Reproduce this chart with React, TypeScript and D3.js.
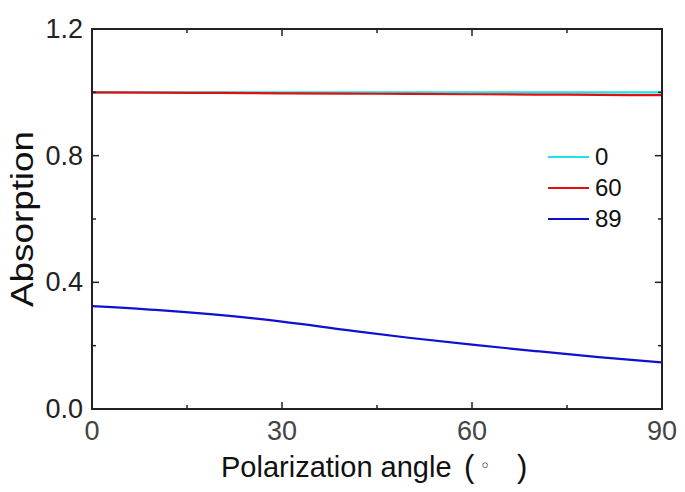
import React from "react";
import * as d3 from "d3";

const angles = [0, 10, 20, 30, 40, 50, 60, 70, 80, 90];
const series0 = [1.0, 1.0, 1.0, 1.0, 1.0, 1.0, 1.0, 1.0, 1.0, 1.0];
const series60 = [1.0, 0.999, 0.998, 0.997, 0.996, 0.995, 0.994, 0.993, 0.992, 0.991];
const series89 = [0.325, 0.313, 0.297, 0.276, 0.25, 0.225, 0.203, 0.183, 0.164, 0.147];
const seriesNames = ["0", "60", "89"];
const seriesColors = ["#22e0e8", "#e01010", "#1010d0"];
const xTicks = [0, 30, 60, 90];
const xMinor = [15, 45, 75];
const yTicks = [0, 0.4, 0.8, 1.2];
const yMinor = [0.2, 0.6, 1.0];

const W = 685, H = 492;
const L = 92, R = 662, T = 29, B = 409;
const font = "Liberation Sans, Arial, sans-serif";

export default function App() {
  const x = d3.scaleLinear().domain([0, 90]).range([L, R]);
  const y = d3.scaleLinear().domain([0, 1.2]).range([B, T]);
  const line = d3.line<[number, number]>().x(d => x(d[0])).y(d => y(d[1])).curve(d3.curveMonotoneX);
  const all = [series0, series60, series89];
  const axisColor = "#222";
  return (
    <svg width={W} height={H} style={{ position: "absolute", left: 0, top: 0, background: "#fff" }}>
      {all.map((s, i) => (
        <path key={i} d={line(angles.map((a, j) => [a, s[j]] as [number, number])) || ""} fill="none" stroke={seriesColors[i]} strokeWidth={2.2} />
      ))}
      <rect x={L} y={T} width={R - L} height={B - T} fill="none" stroke={axisColor} strokeWidth={2} />
      {xTicks.map(t => (
        <g key={"xt" + t}>
          <line x1={x(t)} x2={x(t)} y1={B} y2={B - 7} stroke={axisColor} strokeWidth={1.5} />
          <line x1={x(t)} x2={x(t)} y1={T} y2={T + 7} stroke={axisColor} strokeWidth={1.5} />
          <text x={x(t)} y={440} textAnchor="middle" fontFamily={font} fontSize={27} fill="#444">{t}</text>
        </g>
      ))}
      {xMinor.map(t => (
        <g key={"xm" + t}>
          <line x1={x(t)} x2={x(t)} y1={B} y2={B - 4} stroke={axisColor} strokeWidth={1.5} />
          <line x1={x(t)} x2={x(t)} y1={T} y2={T + 4} stroke={axisColor} strokeWidth={1.5} />
        </g>
      ))}
      {yTicks.map(t => (
        <g key={"yt" + t}>
          <line x1={L} x2={L + 7} y1={y(t)} y2={y(t)} stroke={axisColor} strokeWidth={1.5} />
          <line x1={R} x2={R - 7} y1={y(t)} y2={y(t)} stroke={axisColor} strokeWidth={1.5} />
          <text x={83} y={y(t) + 9} textAnchor="end" fontFamily={font} fontSize={27} fill="#222">{t.toFixed(1)}</text>
        </g>
      ))}
      {yMinor.map(t => (
        <g key={"ym" + t}>
          <line x1={L} x2={L + 4} y1={y(t)} y2={y(t)} stroke={axisColor} strokeWidth={1.5} />
          <line x1={R} x2={R - 4} y1={y(t)} y2={y(t)} stroke={axisColor} strokeWidth={1.5} />
        </g>
      ))}
      {seriesNames.map((n, i) => (
        <g key={"lg" + n}>
          <line x1={548} x2={589} y1={157 + i * 31} y2={157 + i * 31} stroke={seriesColors[i]} strokeWidth={2.2} />
          <text x={595} y={157 + i * 31 + 8} fontFamily={font} fontSize={24} fill="#111">{n}</text>
        </g>
      ))}
      <text y={477} fontFamily={font} fontSize={29} fill="#111">
        <tspan x={221}>Polarization angle</tspan>
        <tspan x={464} fontSize={31}>(</tspan>
        <tspan x={480} dy={-5} fontSize={18} fontFamily="DejaVu Sans">◦</tspan>
        <tspan x={517} dy={5} fontSize={31}>)</tspan>
      </text>
      <text transform={`translate(33,219) rotate(-90)`} textAnchor="middle" fontFamily={font} fontSize={32} fill="#111" textLength={176} lengthAdjust="spacingAndGlyphs">Absorption</text>
    </svg>
  );
}
